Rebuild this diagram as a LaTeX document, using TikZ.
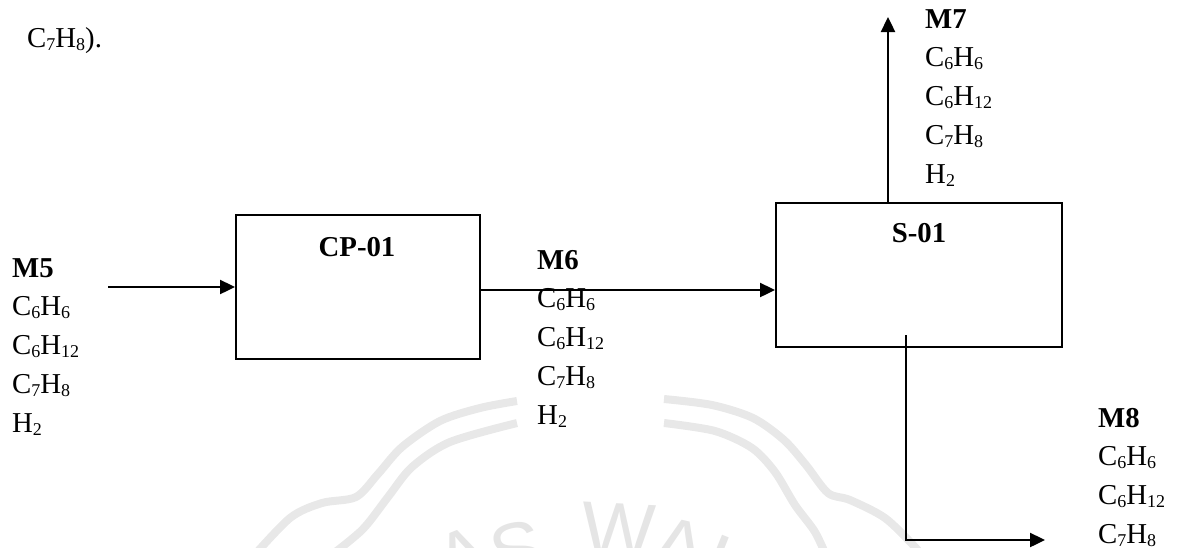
\documentclass[tikz,border=0pt]{standalone}
\usepackage{fontspec}
\setmainfont{Liberation Serif}
\newfontfamily\wmfont{Liberation Sans}
\usetikzlibrary{arrows.meta}
\newcommand\chsub[1]{\raisebox{-3pt}{\fontsize{18}{18}\selectfont #1}}
\tikzset{
  txt/.style={inner sep=0pt, font=\fontsize{28.8}{38.8}\selectfont},
  stack/.style={txt, text width=120pt, align=left, anchor=base west},
  unitbox/.style={draw, line width=2pt, inner sep=0pt},
  flow/.style={draw, line width=2.4pt, -{Triangle[length=15pt,width=14pt]}},
  wmband/.style={draw=black!9, line width=8pt, line join=round},
  wmletter/.style={text=black!10, inner sep=0pt, font=\wmfont\fontsize{78}{78}\selectfont, anchor=north}
}
\begin{document}
\begin{tikzpicture}[x=1pt,y=1pt]
\useasboundingbox (0,0) rectangle (1179,-547);
\clip (0,0) rectangle (1179,-547);
% watermark
\draw[wmband] plot[smooth] coordinates {(250,-560) (290,-518) (322,-503) (356,-497) (378,-474) (402,-447) (440,-421) (480,-408) (517,-401)};
\draw[wmband] plot[smooth] coordinates {(325,-560) (362,-530) (388,-497) (412,-467) (450,-442) (517,-423)};
\draw[wmband] plot[smooth] coordinates {(664,-399) (712,-405) (753,-418) (784,-440) (806,-465) (828,-493) (850,-500) (885,-518) (915,-547) (925,-560)};
\draw[wmband] plot[smooth] coordinates {(664,-423) (715,-431) (752,-448) (775,-472) (795,-505) (815,-532) (828,-560)};
\node[wmletter, rotate=22] (wa1) at ([shift={(600,-895)}]112:392) {A};
\node[wmletter, rotate=13] (ws) at ([shift={(600,-895)}]103.5:382) {S};
\node[wmletter, rotate=-3] (ww) at ([shift={(600,-895)}]87:392) {W};
\node[wmletter, rotate=-13] (wa2) at ([shift={(600,-895)}]77:384) {A};
\node[wmletter, rotate=-22] (wh) at ([shift={(600,-895)}]68:380) {H};
% top text
\node[txt, anchor=base west] (top) at (27,-47) {C\chsub{7}H\chsub{8}).};
% units
\node[unitbox, minimum width=244pt, minimum height=144pt] (cp) at (358,-287) {};
\node[unitbox, minimum width=286pt, minimum height=144pt] (s01) at (919,-275) {};
\node[txt, anchor=base] (cpt) at (357,-256) {\textbf{CP-01}};
\node[txt, anchor=base] (s01t) at (919,-242) {\textbf{S-01}};
% stream labels
\node[stack] (m5) at (12,-277) {\textbf{M5}\\C\chsub{6}H\chsub{6}\\C\chsub{6}H\chsub{12}\\C\chsub{7}H\chsub{8}\\H\chsub{2}};
\node[stack] (m6) at (537,-269) {\textbf{M6}\\C\chsub{6}H\chsub{6}\\C\chsub{6}H\chsub{12}\\C\chsub{7}H\chsub{8}\\H\chsub{2}};
\node[stack] (m7) at (925,-28) {\textbf{M7}\\C\chsub{6}H\chsub{6}\\C\chsub{6}H\chsub{12}\\C\chsub{7}H\chsub{8}\\H\chsub{2}};
\node[stack] (m8) at (1098,-427) {\textbf{M8}\\C\chsub{6}H\chsub{6}\\C\chsub{6}H\chsub{12}\\C\chsub{7}H\chsub{8}};
% connectors
\coordinate (m5in) at (108,-287);
\coordinate (m6out) at (480,-290);
\coordinate (m7top) at (888,-17);
\coordinate (m8a) at (906,-335);
\coordinate (m8end) at (1045,-540);
\draw[flow] (m5in) -- (cp.west);
\draw[flow] (m6out) -- (m6out -| s01.west);
\draw[flow] (s01.north -| m7top) -- (m7top);
\draw[flow] (m8a) |- (m8end);
\end{tikzpicture}
\end{document}
